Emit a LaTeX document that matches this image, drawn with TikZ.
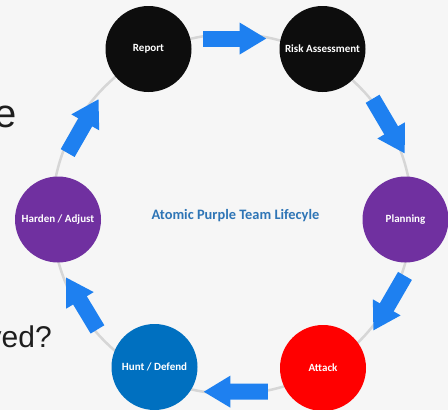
\documentclass[tikz,border=0pt]{standalone}
\usepackage{fontspec}
\setmainfont{Carlito}
\newfontfamily\slidefont{Liberation Sans}
\usetikzlibrary{arrows.meta}

\definecolor{phaseblack}{RGB}{13,13,13}
\definecolor{phasepurple}{RGB}{112,48,160}
\definecolor{phasered}{RGB}{255,0,0}
\definecolor{phaseblue}{RGB}{0,112,192}
\definecolor{flowblue}{RGB}{30,128,240}
\definecolor{titleblue}{RGB}{46,117,182}
\definecolor{ringgray}{RGB}{214,214,214}
\definecolor{slidegray}{RGB}{30,30,30}
\definecolor{paper}{RGB}{246,246,246}

\begin{document}
\begin{tikzpicture}[x=1pt, y=-1pt,
    phase/.style={circle, minimum size=86pt, inner sep=0pt, text=white,
      font=\bfseries\fontsize{11}{13}\selectfont},
    flow/.style={flowblue, line width=16pt, -{Triangle[width=30pt, length=27pt]}},
    ring/.style={ringgray, line width=2.5pt},
    slidetext/.style={anchor=base east, inner sep=0pt, text=slidegray}]
  \useasboundingbox (0,0) rectangle (448,410);
  \clip (0,0) rectangle (448,410);
  \fill[paper] (0,0) rectangle (448,410);

  % cut-off slide text on the left
  \node[slidetext, font=\slidefont\fontsize{40}{46}\selectfont] (line1) at (17,127) {e};
  \node[slidetext, font=\slidefont\fontsize{30}{36}\selectfont] (line2) at (52,347) {ved?};

  % the cycle
  \coordinate (mid) at (232,214);
  \draw[ring] (mid) circle[radius=180pt];

  \node[phase, fill=phaseblack] (rep) at (148.5,49) {Report};
  \node[phase, fill=phaseblack] (risk) at (322.5,49) {Risk Assessment};
  \node[phase, fill=phasepurple] (plan) at (405.5,219.5) {Planning};
  \node[phase, fill=phasered] (att) at (323,368) {Attack};
  \node[phase, fill=phaseblue] (hunt) at (154.5,367) {Hunt / Defend};
  \node[phase, fill=phasepurple] (hard) at (58,219.5) {Harden / Adjust};

  \node[titleblue, anchor=base, font=\bfseries\fontsize{14.4}{17}\selectfont] (title) at (235.5,219) {Atomic Purple Team Lifecyle};

  \draw[flow, shorten <=13pt, shorten >=14pt] (rep.14) -- (risk.166);
  \draw[flow, shorten <=29pt, shorten >=29pt] (risk.-35) -- (plan.71);
  \draw[flow, shorten <=16pt, shorten >=22pt] (plan.-80) -- (att.25);
  \draw[flow, shorten <=19pt, shorten >=13.5pt] (att.-147) -- (hunt.-35);
  \draw[flow, shorten <=30pt, shorten >=17pt] (hunt.164) -- (hard.-91);
  \draw[flow, shorten <=27pt, shorten >=29pt] (hard.95) -- (rep.215);
\end{tikzpicture}
\end{document}
